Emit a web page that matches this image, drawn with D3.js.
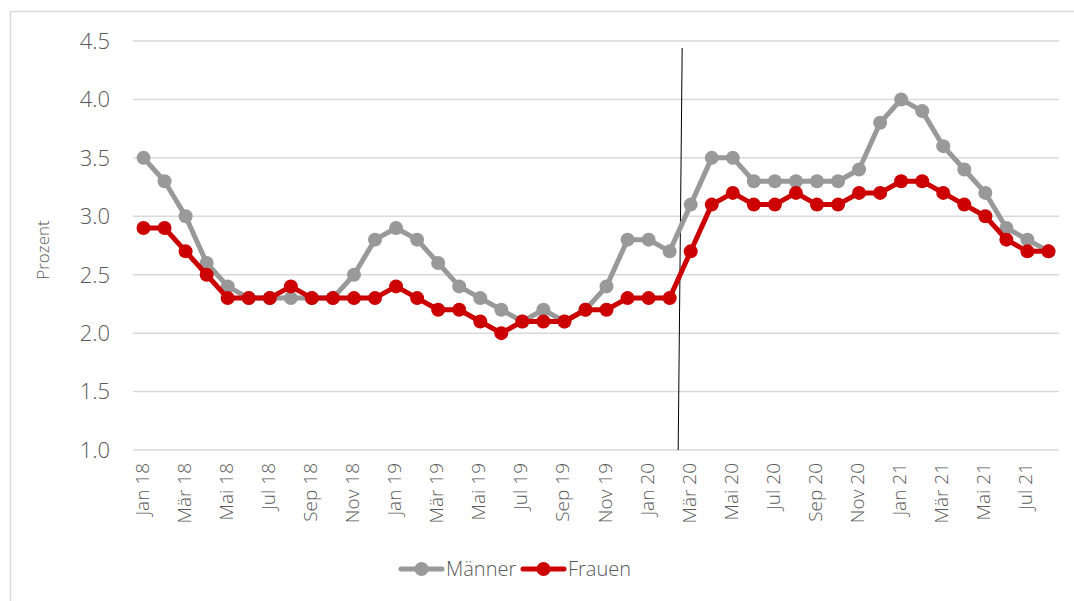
<!DOCTYPE html>
<html>
<head>
<meta charset="utf-8">
<script src="https://cdn.jsdelivr.net/npm/d3@7"></script>
<style>
    body { margin: 0; background: #fff; }
    text { font-family: "Open Sans", "Noto Sans", sans-serif; font-weight: 300; fill: #595959; }
</style>
</head>
<body>
<svg id="chart" width="1074" height="601"></svg>
<script>
// Months Jan 18 .. Aug 21
const monthNames = ['Jan', 'Feb', 'Mär', 'Apr', 'Mai', 'Jun', 'Jul', 'Aug', 'Sep', 'Okt', 'Nov', 'Dez'];
const months = [];
for (let y = 18; y <= 21; y++) {
    for (let m = 0; m < 12; m++) {
        if (y === 21 && m > 7) break;
        months.push(monthNames[m] + ' ' + y);
    }
}

const maenner = [
    3.5, 3.3, 3.0, 2.6, 2.4, 2.3, 2.3, 2.3, 2.3, 2.3, 2.5, 2.8,
    2.9, 2.8, 2.6, 2.4, 2.3, 2.2, 2.1, 2.2, 2.1, 2.2, 2.4, 2.8,
    2.8, 2.7, 3.1, 3.5, 3.5, 3.3, 3.3, 3.3, 3.3, 3.3, 3.4, 3.8,
    4.0, 3.9, 3.6, 3.4, 3.2, 2.9, 2.8, 2.7
];

const frauen = [
    2.9, 2.9, 2.7, 2.5, 2.3, 2.3, 2.3, 2.4, 2.3, 2.3, 2.3, 2.3,
    2.4, 2.3, 2.2, 2.2, 2.1, 2.0, 2.1, 2.1, 2.1, 2.2, 2.2, 2.3,
    2.3, 2.3, 2.7, 3.1, 3.2, 3.1, 3.1, 3.2, 3.1, 3.1, 3.2, 3.2,
    3.3, 3.3, 3.2, 3.1, 3.0, 2.8, 2.7, 2.7
];

const yTicks = [1.0, 1.5, 2.0, 2.5, 3.0, 3.5, 4.0, 4.5];

const series = [
    { name: 'Männer', values: maenner, color: '#999999' },
    { name: 'Frauen', values: frauen, color: '#cc0000' }
];

const svg = d3.select('#chart');

// outer chart frame
svg.append('rect')
    .attr('x', 10.5).attr('y', 11.5)
    .attr('width', 1080).attr('height', 600)
    .attr('fill', 'none')
    .attr('stroke', '#d9d9d9')
    .attr('stroke-width', 1.5);

const x = d3.scalePoint()
    .domain(months)
    .range([133, 1059])
    .padding(0.5);

const y = d3.scaleLinear()
    .domain([1, 4.5])
    .range([450, 41]);

// gridlines
svg.append('g')
    .selectAll('line')
    .data(yTicks)
    .join('line')
    .attr('x1', 133).attr('x2', 1059)
    .attr('y1', d => y(d)).attr('y2', d => y(d))
    .attr('stroke', '#d9d9d9')
    .attr('stroke-width', 1.5);

// y labels
svg.append('g')
    .selectAll('text')
    .data(yTicks)
    .join('text')
    .attr('x', 110)
    .attr('y', d => y(d))
    .attr('dy', '0.36em')
    .attr('text-anchor', 'end')
    .style('font-size', '22px')
    .text(d => d.toFixed(1));

// y title
svg.append('text')
    .attr('transform', 'translate(49,250) rotate(-90)')
    .attr('text-anchor', 'middle')
    .style('font-size', '17px')
    .text('Prozent');

// x labels, every other month
svg.append('g')
    .selectAll('text')
    .data(months.filter((d, i) => i % 2 === 0))
    .join('text')
    .attr('transform', d => `translate(${x(d) + 5},463) rotate(-90)`)
    .attr('text-anchor', 'end')
    .style('font-size', '19px')
    .text(d => d);

// marker line between Feb 20 and Mär 20
const markX = (x('Feb 20') + x('Mär 20')) / 2;
svg.append('line')
    .attr('x1', markX + 2).attr('y1', y(4.44))
    .attr('x2', markX - 2).attr('y2', y(1))
    .attr('stroke', '#000')
    .attr('stroke-width', 1);

const line = d3.line()
    .x((d, i) => x(months[i]))
    .y(d => y(d));

series.forEach(s => {
    const g = svg.append('g');
    g.append('path')
        .datum(s.values)
        .attr('d', line)
        .attr('fill', 'none')
        .attr('stroke', s.color)
        .attr('stroke-width', 5)
        .attr('stroke-linejoin', 'round');
    g.selectAll('circle')
        .data(s.values)
        .join('circle')
        .attr('cx', (d, i) => x(months[i]))
        .attr('cy', d => y(d))
        .attr('r', 7)
        .attr('fill', s.color);
});

// legend
const legend = svg.append('g')
    .selectAll('g')
    .data(series)
    .join('g')
    .attr('transform', (d, i) => `translate(${401 + i * 122},569)`);
legend.append('line')
    .attr('x1', 0).attr('x2', 41)
    .attr('stroke', d => d.color)
    .attr('stroke-width', 5)
    .attr('stroke-linecap', 'round');
legend.append('circle')
    .attr('cx', 20.5)
    .attr('r', 7)
    .attr('fill', d => d.color);
legend.append('text')
    .attr('x', 45)
    .attr('dy', '0.35em')
    .style('font-size', '20px')
    .text(d => d.name);
</script>
</body>
</html>
